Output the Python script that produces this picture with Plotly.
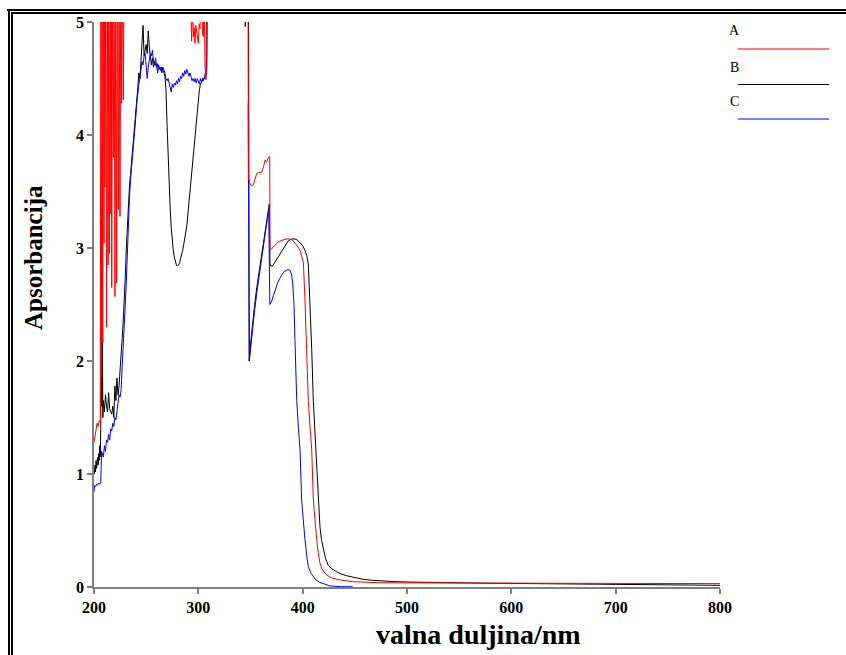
import plotly.graph_objects as go

# ---------------- data ----------------
HI = 5.6  # off-scale (clipped) absorbance, drawn above the top of the axis

wl_A = [200, 201, 202, 203, 204, 205, 206, 206.6, 207.2, 207.8, 208.4, 209.0, 209.6, 210.0, 210.5,
        211.3, 212.1, 212.8, 213.5, 214.1, 214.7, 215.5, 216.2, 216.6, 217.0, 217.8, 218.5, 219.3,
        220.1, 220.9, 221.7, 222.5, 223.3, 224.1, 224.9, 225.7, 226.5, 227.3, 228.1, 228.9,
        291.2, 292.0, 293.6, 294.4, 295.2, 296.0, 296.8, 297.6, 298.4, 299.2, 300.0, 300.8, 301.6,
        302.4, 303.2, 304.0, 304.8, 305.6, 306.4, 307.4, 308.0,
        347.6, 348.0, 349.5, 351.0, 352.7, 354.5, 356.0, 358.0, 360.7, 362.5, 364.0, 365.5, 367.0,
        368.4, 368.7, 370, 372, 375, 378, 381, 384, 387, 390, 393, 395.5, 397.5, 399, 400.7, 402.2,
        403.8, 405.4, 407.0, 408.7, 410.2, 411.8, 413.4, 415.0, 416.6, 419.0, 423.0, 428.0, 436.0,
        448.0, 474.0, 500, 550, 600, 650, 700, 750, 800]
abs_A = [1.28, 1.33, 1.38, 1.45, 1.42, 1.47, 1.46, HI, 1.86, HI, 2.16, HI, 3.04, HI, 3.54,
         HI, 2.30, HI, 2.85, HI, 2.95, HI, 3.30, HI, 2.65, HI, 3.80, HI,
         2.57, HI, 2.69, HI, 3.34, HI, 3.28, HI, 4.28, HI, 4.31, HI,
         HI, 5.30, 4.83, 5.20, 4.87, 4.95, 4.81, 4.97, 4.92, 4.85, 4.81, 4.98, 4.94,
         5.30, 5.20, 4.90, 4.87, 5.30, 4.60, 4.49, HI,
         HI, 3.62, 3.57, 3.55, 3.56, 3.63, 3.66, 3.67, 3.67, 3.72, 3.78, 3.76, 3.80,
         3.81, 2.98, 2.99, 3.01, 3.04, 3.06, 3.07, 3.08, 3.08, 3.07, 3.04, 3.01, 2.98, 2.93, 2.87, 2.54,
         2.10, 1.65, 1.42, 1.21, 0.77, 0.58, 0.42, 0.30, 0.21, 0.15, 0.106, 0.080, 0.062,
         0.047, 0.038, 0.036, 0.034, 0.033, 0.032, 0.031, 0.030, 0.030]

wl_B = [200, 200.5, 201, 201.5, 202, 202.5, 203, 203.5, 204, 204.5, 205, 205.5, 206, 206.5, 207,
        207.5, 208, 208.5, 209, 210, 211, 212, 213, 214, 215, 216, 217, 218, 219, 220, 221, 222,
        223, 224, 225, 226, 227, 228, 229, 230, 231, 232, 233, 234, 235, 236, 237, 238, 239, 240,
        241, 242, 243, 244, 245, 246, 247, 248, 249, 250, 251, 252, 253, 254, 255, 256, 257, 258,
        259, 260, 261, 262, 263, 264, 265, 266, 267, 268, 269, 270, 271, 272, 273, 274, 275, 276,
        277, 278, 279, 280, 281, 282, 283, 284, 285, 286, 287, 288, 289, 290, 291, 292, 293, 294,
        295, 296, 297, 298, 299, 300, 301, 302, 303, 304, 305, 306, 307, 308, 308.7,
        344.5, 345.0, 345.5, 348.0, 348.8, 350, 352, 354, 356, 358, 360, 362, 364, 366, 368, 368.7,
        369.5, 371, 373, 375, 377, 380, 383, 386, 389, 392.6, 395, 398, 400, 402.2, 404, 405.4, 407.0,
        408.7, 410.2, 411.8, 413.4, 415.0, 416.6, 418, 419.8, 422, 424.6, 428, 432.6, 437, 442, 450,
        458, 466, 474, 487, 500, 515, 532, 555, 580, 620, 660, 700, 740, 765, 800]
abs_B = [1.03, 1.00, 1.08, 1.02, 1.12, 1.05, 1.10, 1.15, 1.08, 1.18, 1.12, 1.25, 1.15, 1.40, 3.25,
         1.60, 2.20, 1.50, 1.65, 1.55, 1.70, 1.60, 1.55, 1.72, 1.58, 1.55, 1.53, 1.60, 1.50, 1.78,
         1.65, 1.85, 1.70, 1.78, 1.90, 2.05, 2.20, 2.35, 2.50, 2.75, 3.00, 3.20, 3.40, 3.55, 3.65,
         3.75, 3.90, 4.00, 4.10, 4.20, 4.30, 4.42, 4.55, 4.50, 4.65, 4.80, 4.97, 4.70, 4.75, 4.80,
         4.72, 4.92, 4.78, 4.70, 4.62, 4.68, 4.60, 4.65, 4.62, 4.60, 4.63, 4.58, 4.60, 4.57, 4.60,
         4.58, 4.55, 4.52, 4.40, 4.10, 3.78, 3.55, 3.35, 3.18, 3.05, 2.98, 2.92, 2.87, 2.85, 2.84,
         2.85, 2.87, 2.90, 2.93, 2.98, 3.03, 3.08, 3.13, 3.20, 3.30, 3.40, 3.50, 3.60, 3.72, 3.84,
         3.95, 4.05, 4.14, 4.25, 4.33, 4.40, 4.45, 4.47, 4.48, 4.50, 4.50, 4.52, 4.55, HI,
         HI, 4.96, HI, HI, 2.00, 2.15, 2.35, 2.50, 2.65, 2.78, 2.90, 3.03, 3.16, 3.28, 3.39, 2.86,
         2.84, 2.84, 2.87, 2.90, 2.93, 2.97, 3.02, 3.06, 3.08, 3.08, 3.07, 3.04, 3.02, 2.98, 2.93,
         2.86, 2.54, 2.10, 1.65, 1.35, 1.06, 0.80, 0.53, 0.42, 0.33, 0.25, 0.19, 0.16, 0.135, 0.115,
         0.10, 0.082, 0.068, 0.060, 0.053, 0.048, 0.044, 0.041, 0.038, 0.035, 0.033, 0.030, 0.028,
         0.026, 0.024, 0.020, 0.015]

wl_C = [200, 200.5, 201.5, 202.5, 203.5, 204.5, 205.5, 206.5, 207.3, 208, 209, 210, 211, 212, 213,
        214, 215, 216, 217, 218, 219, 220, 221, 222, 223, 224, 225, 226, 227, 228, 229, 230, 231,
        232, 233, 234, 235, 236, 237, 238, 239, 240, 241, 242, 243, 244, 245, 246, 247, 248, 249,
        250, 251, 252, 253, 254, 255, 256, 257, 258, 259, 260, 261, 262, 263, 264, 265, 266, 267,
        268, 269, 270, 271, 272, 273, 274, 275, 276, 277, 278, 279, 280, 281, 282, 283, 284, 285,
        286, 287, 288, 289, 290, 291, 292, 293, 294, 295, 296, 297, 298, 299, 300, 301, 302, 303,
        304, 305, 306, 307, 308, 308.7, 309.0,
        347.8, 348.2, 348.8, 350, 352, 354, 356, 358, 360, 362, 364, 366, 367.5, 368.5, 370, 372,
        374, 376, 378, 380, 382, 384, 386, 388, 389.5, 390.5, 391.7, 392.6, 393.6, 394.3, 396, 397.5,
        399, 400.5, 402.2, 404, 405.4, 408, 410.2, 413, 416.6, 421, 426, 436, 448]
abs_C = [0.84, 0.90, 0.89, 0.91, 0.90, 0.92, 0.91, 0.93, 1.20, 1.18, 1.15, 1.25, 1.20, 1.30, 1.28,
         1.35, 1.30, 1.40, 1.38, 1.45, 1.42, 1.50, 1.48, 1.55, 1.62, 1.70, 1.68, 1.75, 1.95, 2.10,
         2.30, 2.50, 2.70, 3.00, 3.30, 3.45, 3.60, 3.70, 3.85, 3.95, 4.05, 4.15, 4.28, 4.38, 4.45,
         4.50, 4.58, 4.65, 4.62, 4.70, 4.72, 4.55, 4.50, 4.60, 4.68, 4.72, 4.70, 4.75, 4.65, 4.62,
         4.68, 4.60, 4.55, 4.62, 4.58, 4.60, 4.55, 4.60, 4.58, 4.55, 4.50, 4.48, 4.50, 4.45, 4.42,
         4.38, 4.45, 4.42, 4.46, 4.44, 4.48, 4.45, 4.50, 4.47, 4.52, 4.50, 4.55, 4.52, 4.57, 4.54,
         4.58, 4.55, 4.52, 4.55, 4.50, 4.48, 4.50, 4.47, 4.50, 4.46, 4.50, 4.48, 4.45, 4.50, 4.47,
         4.50, 4.48, 4.52, 4.55, 4.60, HI, None,
         4.28, 3.50, 2.00, 2.10, 2.30, 2.45, 2.60, 2.72, 2.85, 2.98, 3.12, 3.25, 3.33, 2.50, 2.52,
         2.58, 2.64, 2.69, 2.73, 2.76, 2.79, 2.80, 2.81, 2.80, 2.76, 2.68, 2.50, 2.19, 1.89, 1.65,
         1.40, 1.21, 0.77, 0.58, 0.42, 0.27, 0.18, 0.12, 0.09, 0.06, 0.04, 0.025, 0.01, 0.003, 0.002]

series_colors = {"A": "#ff0000", "B": "#000000", "C": "#0000ff"}

# ---------------- figure ----------------
W, H = 846, 655
PX0, PX1, PY0, PY1 = 94, 720, 22, 587           # plot area in pixels
L, T, R, B = PX0, PY0, W - PX1, H - PY1
PW, PH = PX1 - PX0, PY1 - PY0


def fx(px):
    return (px - PX0) / PW


def fy(py):
    return (PY1 - py) / PH


fig = go.Figure()
for name, wl, ab in [("B", wl_B, abs_B), ("C", wl_C, abs_C), ("A", wl_A, abs_A)]:
    fig.add_trace(go.Scatter(x=wl, y=ab, mode="lines", name=name, connectgaps=False,
                             line=dict(color=series_colors[name], width=1)))

tickfont = dict(family="Liberation Serif", size=16, color="#000000", weight="bold")
fig.update_layout(
    width=W, height=H,
    margin=dict(l=L, r=R, t=T, b=B, autoexpand=False),
    paper_bgcolor="white", plot_bgcolor="white",
    showlegend=False,
    xaxis=dict(range=[200, 800], tickvals=[200, 300, 400, 500, 600, 700, 800],
               ticks="outside", ticklen=5, tickwidth=1.5, tickcolor="#808080",
               showline=True, linecolor="#808080", linewidth=1.5,
               showgrid=False, zeroline=False, tickfont=tickfont),
    yaxis=dict(range=[0, 5], tickvals=[0, 1, 2, 3, 4, 5],
               ticks="outside", ticklen=5, tickwidth=1.5, tickcolor="#808080",
               showline=True, linecolor="#808080", linewidth=1.5,
               showgrid=False, zeroline=False, tickfont=tickfont),
)

annotations = [
    dict(text="Apsorbancija", x=fx(33), y=fy(258), xref="paper", yref="paper",
         textangle=-90, showarrow=False, xanchor="center", yanchor="middle",
         font=dict(family="Liberation Serif", size=25, color="#000000", weight="bold")),
    dict(text="valna duljina/nm", x=fx(478), y=fy(634), xref="paper", yref="paper",
         showarrow=False, xanchor="center", yanchor="middle",
         font=dict(family="Liberation Serif", size=28, color="#000000", weight="bold")),
]
shapes = []
legend_rows = [("A", 31, 49), ("B", 67, 84.5), ("C", 101, 119)]
for name, ty, ly in legend_rows:
    annotations.append(dict(text=name, x=fx(734), y=fy(ty), xref="paper", yref="paper",
                            showarrow=False, xanchor="center", yanchor="middle",
                            font=dict(family="Liberation Serif", size=14, color="#000000")))
    shapes.append(dict(type="line", xref="paper", yref="paper", x0=fx(738), x1=fx(829),
                       y0=fy(ly), y1=fy(ly), line=dict(color=series_colors[name], width=1.2)))

# double frame (top and left), pixel coordinates
frame = [(7, 10, W, 10), (9, 9, 9, H), (12, 13, W, 13), (12, 12, 12, H)]
for x0, y0, x1, y1 in frame:
    shapes.append(dict(type="line", xref="paper", yref="paper", x0=fx(x0), y0=fy(y0),
                       x1=fx(x1), y1=fy(y1), line=dict(color="#000000", width=2)))

fig.update_layout(annotations=annotations, shapes=shapes)
# remove the default 8px page margin so the figure fills the window exactly
fig.write_html("out.html", config={"displayModeBar": False},
               post_script="document.body.style.margin='0';document.body.style.overflow='hidden';")
